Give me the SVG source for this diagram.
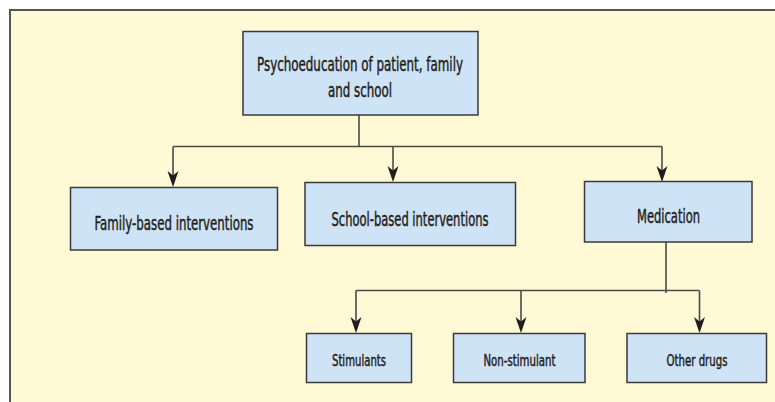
<svg xmlns="http://www.w3.org/2000/svg" width="775" height="402" viewBox="0 0 775 402">
<style>
.bg{fill:#fff9d6}
.frame{fill:none;stroke:#555;stroke-width:2}
.box{fill:#cfe3f6;stroke:#3a3a3a;stroke-width:1.5}
.lbl{font-family:"Liberation Sans Narrow","DejaVu Sans Condensed","Liberation Sans",sans-serif;fill:#231f20;stroke:#231f20;stroke-width:0.45;text-anchor:middle}
.big{font-size:19px}
.small{font-size:15.5px}
.line{fill:none;stroke:#4a4a4a;stroke-width:1.6}
.head{fill:#1e1e1e}
</style>
<rect x="0" y="0" width="775" height="402" fill="#ffffff"/>
<rect class="bg" x="10" y="10" width="765" height="392"/>
<path class="frame" d="M10,402 V10 H775"/>
<g id="connectors">
<path class="line" d="M359,115 V146.5"/>
<path class="line" d="M173,146.5 H662"/>
<path class="line" d="M173,146.5 V176"/>
<path class="head" d="M167.5,171 L173,175.5 L178.5,171 L173,187 Z"/>
<path class="line" d="M393,146.5 V171"/>
<path class="head" d="M387.5,166 L393,170.5 L398.5,166 L393,182 Z"/>
<path class="line" d="M662,146.5 V171"/>
<path class="head" d="M656.5,166 L662,170.5 L667.5,166 L662,182 Z"/>
<path class="line" d="M666,242 V293"/>
<path class="line" d="M356,290.5 H699.5"/>
<path class="line" d="M356,290.5 V322"/>
<path class="head" d="M350.5,317 L356,321.5 L361.5,317 L356,333 Z"/>
<path class="line" d="M521,290.5 V322"/>
<path class="head" d="M515.5,317 L521,321.5 L526.5,317 L521,333 Z"/>
<path class="line" d="M699.5,290.5 V322"/>
<path class="head" d="M694,317 L699.5,321.5 L705,317 L699.5,333 Z"/>
</g>
<g id="n-psycho">
<rect class="box" x="243" y="31.5" width="235" height="83.5"/>
<text class="lbl big" x="360" y="71" textLength="206" lengthAdjust="spacingAndGlyphs">Psychoeducation of patient, family</text>
<text class="lbl big" x="360" y="97" textLength="64" lengthAdjust="spacingAndGlyphs">and school</text>
</g>
<g id="n-family">
<rect class="box" x="70.5" y="187.5" width="207" height="62.5"/>
<text class="lbl big" x="174" y="230" textLength="159" lengthAdjust="spacingAndGlyphs">Family-based interventions</text>
</g>
<g id="n-school">
<rect class="box" x="305" y="182.5" width="210.5" height="63"/>
<text class="lbl big" x="410" y="226" textLength="157" lengthAdjust="spacingAndGlyphs">School-based interventions</text>
</g>
<g id="n-medication">
<rect class="box" x="584.5" y="181.5" width="167.5" height="60.5"/>
<text class="lbl big" x="668.5" y="222.5" textLength="63" lengthAdjust="spacingAndGlyphs">Medication</text>
</g>
<g id="n-stimulants">
<rect class="box" x="306.5" y="333.5" width="105" height="49"/>
<text class="lbl small" x="359" y="365.5" textLength="54" lengthAdjust="spacingAndGlyphs">Stimulants</text>
</g>
<g id="n-nonstim">
<rect class="box" x="453.5" y="333.5" width="131.5" height="49"/>
<text class="lbl small" x="519.5" y="365.5" textLength="72" lengthAdjust="spacingAndGlyphs">Non-stimulant</text>
</g>
<g id="n-other">
<rect class="box" x="627" y="333.5" width="139.5" height="49"/>
<text class="lbl small" x="697" y="365.5" textLength="61" lengthAdjust="spacingAndGlyphs">Other drugs</text>
</g>
</svg>
